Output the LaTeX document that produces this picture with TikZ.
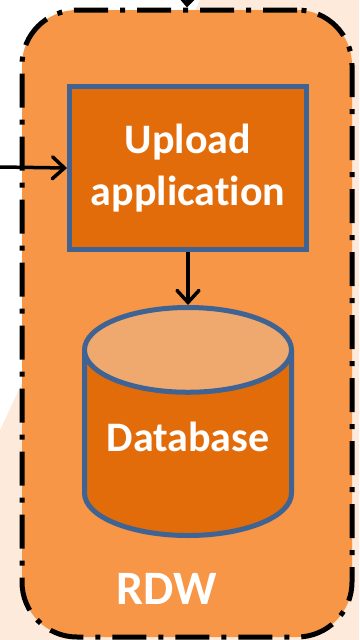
\documentclass[tikz,border=0pt]{standalone}
\usepackage{fontspec}
\setmainfont{Carlito}[Ligatures=NoCommon]
\usetikzlibrary{shapes.geometric,arrows.meta,positioning}
\definecolor{rdwfill}{HTML}{F79646}
\definecolor{boxfill}{HTML}{E36C0A}
\definecolor{boxline}{HTML}{3F6392}
\definecolor{dbtop}{HTML}{EFA96F}
\definecolor{bgpeach}{HTML}{FDEADA}
\tikzset{
  bigtext/.style={text=white, font=\fontsize{42}{52}\selectfont\bfseries},
  rdwbox/.style={draw=black, fill=rdwfill, line width=5pt, rounded corners=55pt,
    dash pattern=on 34pt off 12pt on 5pt off 12pt},
  procbox/.style={draw=boxline, fill=boxfill, line width=5pt, bigtext, align=center},
  store/.style={cylinder, shape border rotate=90, draw=boxline, line width=5pt, bigtext,
    cylinder uses custom fill, cylinder body fill=boxfill, cylinder end fill=dbtop},
  flow/.style={-{Straight Barb[length=12pt,width=22pt,line cap=round]}, line width=3.5pt},
}
\begin{document}
\begin{tikzpicture}[x=1pt, y=-1pt]
\useasboundingbox (0,0) rectangle (359,640);
% background
\fill[bgpeach] (0,0) rectangle (359,640);
\fill[white] (0,0)--(200,0)--(0,430)--cycle;

\node[rdwbox, minimum width=330, minimum height=627] (rdw) at (187,323.5) {};
\node[bigtext, font=\fontsize{48}{50}\selectfont\bfseries] (rdwname) at (167,589) {RDW};

\node[procbox, minimum width=237, minimum height=163] (upload) at (188,168) {Upload\\application};
\node[store, minimum width=207, minimum height=228, aspect=0.5, anchor=shape center,
  text depth=26pt] (db) at (188,421.5) {Database};

\coordinate (inleft) at (0,167);
\coordinate (intop) at (188,-25);
\draw[flow] (inleft) -- (upload.west);
\draw[flow] (intop) -- (rdw.north);
\draw[flow] (upload.south) -- (db.north);
\end{tikzpicture}
\end{document}
